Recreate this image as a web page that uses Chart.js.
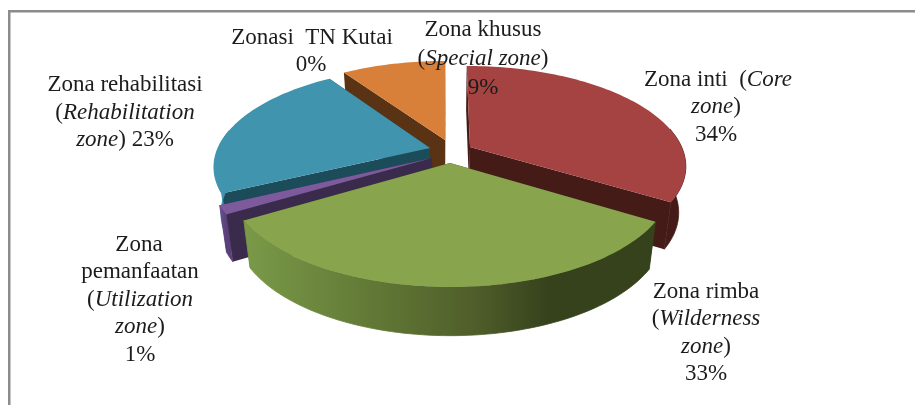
<!DOCTYPE html>
<html><head><meta charset="utf-8">
<style>html,body{margin:0;padding:0;background:#fff;overflow:hidden}canvas{display:block}</style>
<script src="https://cdn.jsdelivr.net/npm/chart.js@4/dist/chart.umd.min.js"></script>
</head><body><canvas id="c" width="915" height="405"></canvas>
<script>
const categories = ["Zonasi TN Kutai","Zona inti","Zona rimba","Zona pemanfaatan","Zona rehabilitasi","Zona khusus"];
const values = [0,33.8,32.6,1.4,22.8,9.4];
const topColors = ["#4f81bd","#a54342","#88a44c","#7c5a9c","#4094ae","#d8803a"];
const cutColors = ["#27405e","#451b18","#36421c","#3a2b4d","#1c4c5a","#5a3315"];
const rimStops = [
  [[0,"#27405e"],[1,"#27405e"]],
  [[0,"#451b18"],[1,"#451b18"]],
  [[0,"#7a9a48"],[0.3,"#627a36"],[0.55,"#515f2b"],[0.74,"#36421c"],[1,"#36421c"]],
  [[0,"#6e4f93"],[1,"#5a4078"]],
  [[0,"#3f94ae"],[1,"#3f94ae"]],
  [[0,"#5a3315"],[1,"#5a3315"]]
];
const apexes = [[448,150],[470,147],[450,163],[432,158],[430,148],[445,140]];
const labels = [
  {x:312,y:38,runs:[["Zonasi  TN Kutai",0]]},{x:311,y:65,runs:[["0%",0]]},
  {x:483,y:30,runs:[["Zona khusus",0]]},{x:483,y:59,runs:[["(",0],["Special zone",1],[")",0]]},{x:483,y:88,runs:[["9%",0]]},
  {x:718,y:80,runs:[["Zona inti  (",0],["Core",1]]},{x:716,y:107,runs:[["zone",1],[")",0]]},{x:716,y:135,runs:[["34%",0]]},
  {x:125,y:85,runs:[["Zona rehabilitasi",0]]},{x:125,y:113,runs:[["(",0],["Rehabilitation",1]]},{x:125,y:140,runs:[["zone",1],[") 23%",0]]},
  {x:139,y:245,runs:[["Zona",0]]},{x:140,y:272,runs:[["pemanfaatan",0]]},{x:140,y:300,runs:[["(",0],["Utilization",1]]},{x:140,y:327,runs:[["zone",1],[")",0]]},{x:140,y:355,runs:[["1%",0]]},
  {x:706,y:292,runs:[["Zona rimba",0]]},{x:706,y:319,runs:[["(",0],["Wilderness",1]]},{x:706,y:347,runs:[["zone",1],[")",0]]},{x:706,y:374,runs:[["33%",0]]}
];
const view = {cx:448,cy:153,A:214,B:97.6,p:0.18,taper:0.97};
const fontSize = 23;

function perspective(u,v){const s=1/(1-view.p*v);return {x:view.cx+view.A*u*s,y:view.cy+view.B*v*s,s};}
function planeFrom(sx,sy){const f=(sy-view.cy)/view.B,v=f/(1+view.p*f),s=1/(1-view.p*v);return {u:(sx-view.cx)/(view.A*s),v};}
function depth(s){return 35+11*s;}

const pie3d = {
  id:'pie3d',
  beforeDatasetsDraw(chart){
    const ctx=chart.ctx, arcs=chart.getDatasetMeta(0).data;
    const order=arcs.map((a,i)=>i).filter(i=>values[i]>0)
      .sort((i,j)=>{const m=k=>(arcs[k].startAngle+arcs[k].endAngle)/2+Math.PI/2;return -Math.cos(m(i))+Math.cos(m(j));});
    for(const i of order){
      const a=arcs[i], o=planeFrom(apexes[i][0],apexes[i][1]);
      const t0=a.startAngle+Math.PI/2, t1=a.endAngle+Math.PI/2;
      const n=Math.max(4,Math.ceil((t1-t0)*40));
      const rim=[],angles=[];
      for(let k=0;k<=n;k++){const t=t0+(t1-t0)*k/n;angles.push(t);rim.push(perspective(o.u+Math.sin(t),o.v-Math.cos(t)));}
      const ap=perspective(o.u,o.v);
      const low=p=>({x:view.cx+(p.x-view.cx)*view.taper,y:p.y+depth(p.s)});
      const poly=(pts,fill,seam)=>{ctx.beginPath();pts.forEach((p,k)=>k?ctx.lineTo(p.x,p.y):ctx.moveTo(p.x,p.y));ctx.closePath();ctx.fillStyle=fill;ctx.fill();if(seam){ctx.strokeStyle=fill;ctx.lineWidth=0.8;ctx.lineJoin='round';ctx.stroke();}};
      // cut faces that look toward the viewer: only the lower edge of the wedge
      const facing=t=>Math.cos(t)<0.2;
      if(Math.sin(t0)*Math.cos(t0)<0 && facing(t0)) {} 
      poly([ap,rim[n],low(rim[n]),low(ap)],cutColors[i],false);
      poly([ap,rim[0],low(rim[0]),low(ap)],cutColors[i],false);
      // outer wall, front part only
      const front=rim.filter((p,k)=>facing(angles[k]));
      if(front.length>1){
        const xs=rim.map(p=>p.x),x0=Math.min(...xs),x1=Math.max(...xs);
        const g=ctx.createLinearGradient(x0,0,x1,0);
        rimStops[i].forEach(s=>g.addColorStop(s[0],s[1]));
        poly(front.concat(front.map(low).reverse()),g,true);
      }
      // top face
      poly([ap].concat(rim),topColors[i],false);
    }
  },
  afterDraw(chart){
    const ctx=chart.ctx;
    ctx.save();
    ctx.fillStyle="#8c8c8c";
    ctx.fillRect(8,10,907,2.5);
    ctx.fillRect(8,10,2.5,395);
    ctx.fillStyle="#1c1c1c";
    ctx.textBaseline="middle";ctx.textAlign="left";
    const F=['','italic '].map(s=>s+fontSize+'px "Liberation Serif"');
    for(const l of labels){
      let w=0;l.runs.forEach(r=>{ctx.font=F[r[1]];w+=ctx.measureText(r[0]).width;});
      let x=l.x-w/2;
      l.runs.forEach(r=>{ctx.font=F[r[1]];ctx.fillText(r[0],x,l.y);x+=ctx.measureText(r[0]).width;});
    }
    ctx.restore();
  }
};

new Chart(document.getElementById('c'),{
  type:'pie',
  data:{labels:categories,datasets:[{data:values,backgroundColor:'rgba(0,0,0,0)',borderWidth:0}]},
  options:{responsive:false,animation:false,plugins:{legend:{display:false},tooltip:{enabled:false}}},
  plugins:[pie3d]
});
</script></body></html>
